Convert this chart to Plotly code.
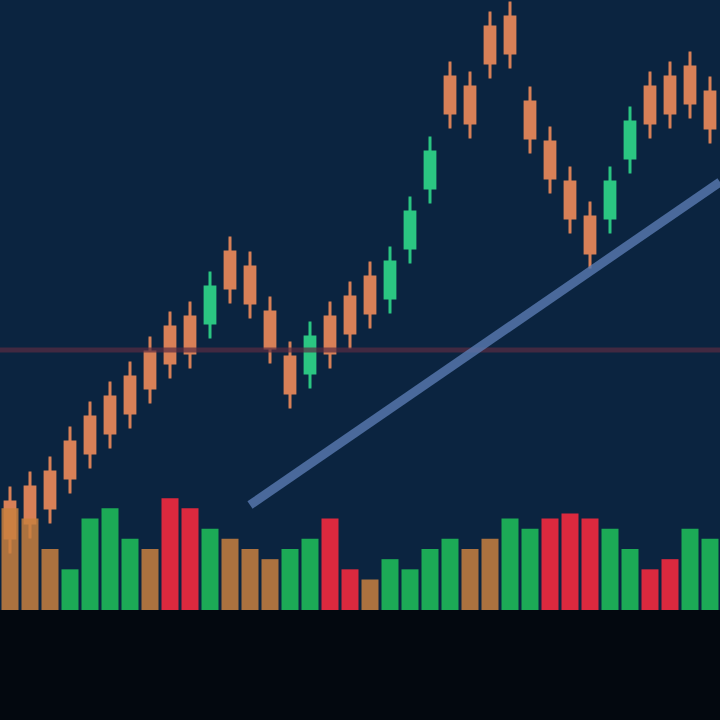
import plotly.graph_objects as go

# ---- data (approximate) ----
idx = list(range(36))
opens = [98, 113, 128, 158, 183, 203, 223, 248, 273, 283, 277, 348, 333, 288, 243, 227, 283, 303, 323, 302,
         352, 412, 523, 513, 573, 583, 498, 458, 418, 383, 382, 442, 513, 523, 533, 508]
closes = [62, 77, 92, 122, 147, 167, 187, 212, 237, 247, 313, 312, 297, 252, 207, 263, 247, 267, 287, 338,
          388, 448, 487, 477, 537, 547, 462, 422, 382, 347, 418, 478, 477, 487, 497, 472]
highs = [112, 127, 142, 172, 197, 217, 237, 262, 287, 297, 327, 362, 347, 302, 257, 277, 297, 317, 337, 352,
         402, 462, 537, 527, 587, 597, 512, 472, 432, 397, 432, 492, 527, 537, 547, 522]
lows = [48, 63, 78, 108, 133, 153, 173, 198, 223, 233, 263, 298, 283, 238, 193, 213, 233, 253, 273, 288,
        338, 398, 473, 463, 523, 533, 448, 408, 368, 333, 368, 428, 463, 473, 483, 458]
volumes = [100, 90, 60, 40, 90, 100, 70, 60, 110, 100, 80, 70, 60, 50, 60, 70, 90, 40, 30, 50,
           40, 60, 70, 60, 70, 90, 80, 90, 95, 90, 80, 60, 40, 50, 80, 70]
vol_kind = ["o", "o", "o", "g", "g", "g", "g", "o", "r", "r", "g", "o", "o", "o", "g", "g", "r", "r", "o", "g",
            "g", "g", "g", "o", "o", "g", "g", "r", "r", "r", "g", "g", "r", "r", "g", "g"]
trend_x = [12, 35.5]
trend_y = [95, 418]
support_level = 250

GREEN = "#2fd88a"
ORANGE = "#ef8a5a"
RED = "#ff2a3e"
kind_color = {"g": "#1fc25a", "o": "#c9803f", "r": RED}

fig = go.Figure()

fig.add_trace(go.Bar(
    x=idx, y=volumes, yaxis="y2",
    marker=dict(color=[kind_color[k] for k in vol_kind], line=dict(width=0)),
    opacity=0.85, width=0.85, showlegend=False, hoverinfo="skip"))

fig.add_trace(go.Scatter(
    x=[-0.5, 35.5], y=[support_level, support_level], mode="lines",
    line=dict(color="#5a2c42", width=5), opacity=0.7, showlegend=False, hoverinfo="skip"))

fig.add_trace(go.Scatter(
    x=trend_x, y=trend_y, mode="lines",
    line=dict(color="#5a7bb2", width=9), opacity=0.8, showlegend=False, hoverinfo="skip"))

fig.add_trace(go.Candlestick(
    x=idx, open=opens, high=highs, low=lows, close=closes,
    increasing=dict(line=dict(color=GREEN, width=3), fillcolor=GREEN),
    decreasing=dict(line=dict(color=ORANGE, width=3), fillcolor=ORANGE),
    whiskerwidth=0.3, opacity=0.9, showlegend=False))

fig.update_layout(
    width=720, height=720,
    margin=dict(l=0, r=0, t=0, b=110),
    paper_bgcolor="#03080f",
    plot_bgcolor="#0b2440",
    xaxis=dict(range=[-0.5, 35.5], visible=False, rangeslider=dict(visible=False), showgrid=False),
    yaxis=dict(range=[-10, 600], visible=False, showgrid=False),
    yaxis2=dict(range=[0, 600], overlaying="y", visible=False, showgrid=False),
    bargap=0.1,
)

fig.write_html("out.html", config={"displayModeBar": False},
               post_script="document.body.style.margin='0';document.body.style.background='#03080f';")
